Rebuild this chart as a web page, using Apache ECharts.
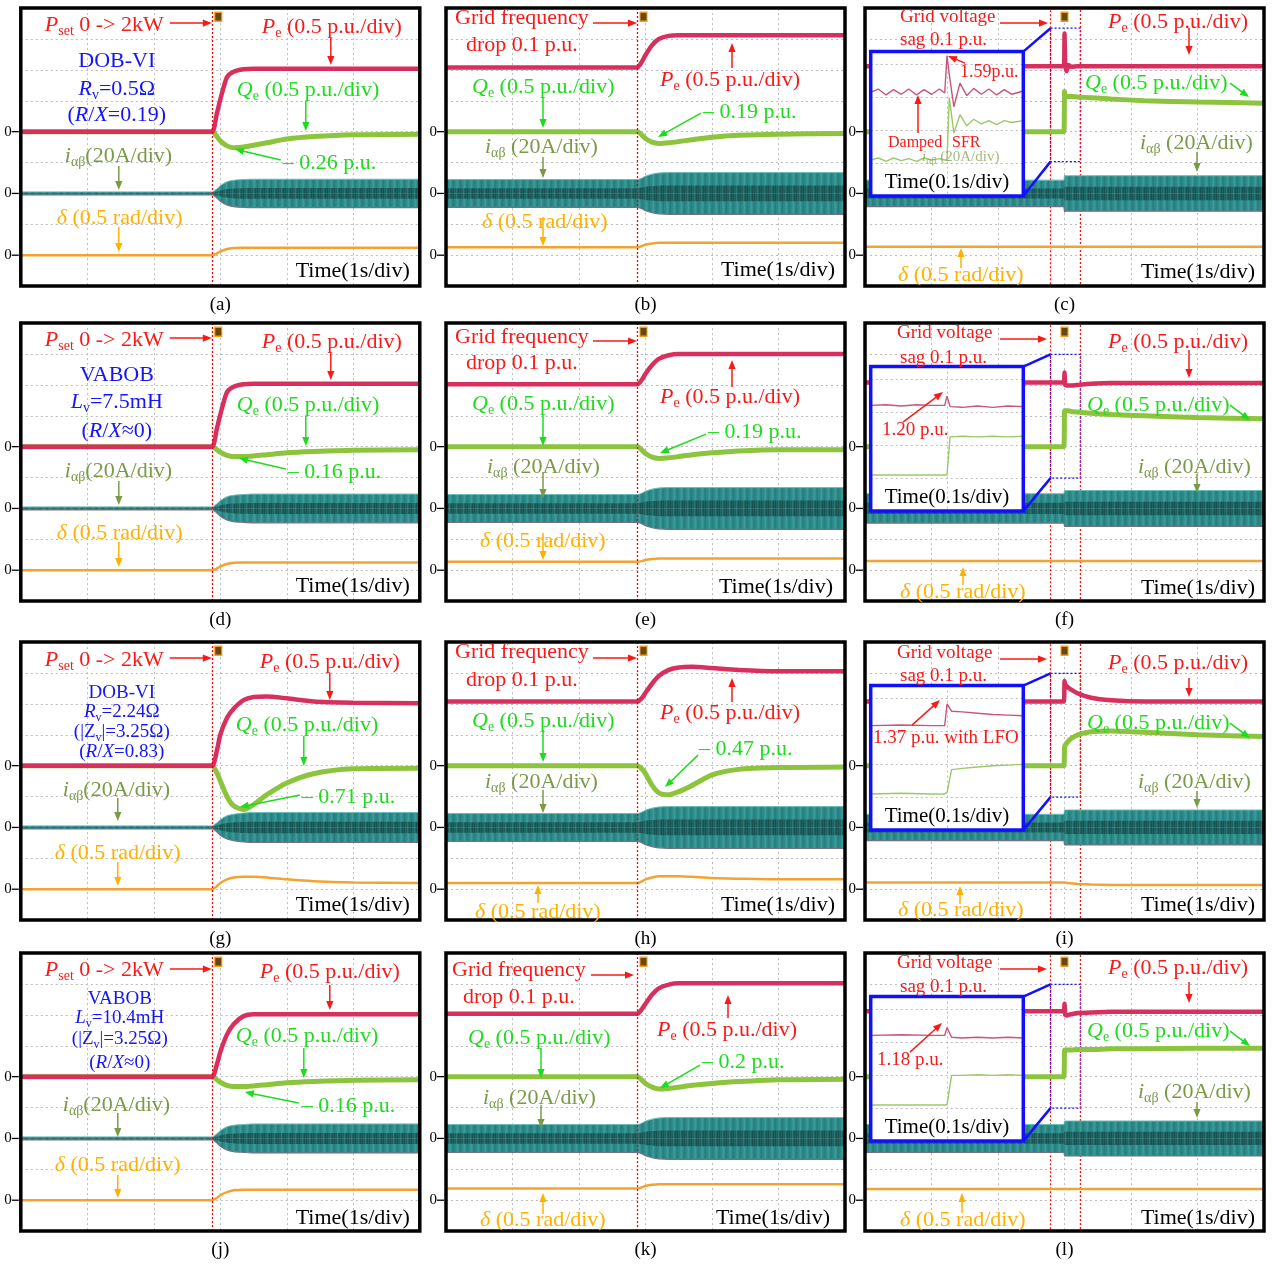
<!DOCTYPE html>
<html>
<head>
<meta charset="utf-8">
<script src="https://cdn.jsdelivr.net/npm/echarts@6/dist/echarts.min.js"></script>
<style>
  html, body { margin: 0; padding: 0; background: #fff; }
  #chart { width: 1273px; height: 1264px; }
</style>
</head>
<body>
<div id="chart"></div>
<script>
// ---------------------------------------------------------------------------
// Sample instants (s). Step / frequency-drop records and voltage-sag records.
// ---------------------------------------------------------------------------
const tStep = [0, 2.8, 2.88, 2.95, 3.0, 3.1, 3.2, 3.35, 3.5, 3.7, 4.0, 4.4, 5.0, 6.0];
const tSag  = [0, 2.9, 2.99, 3.0, 3.01, 3.03, 3.06, 3.1, 3.2, 3.4, 3.7, 4.2, 5.0, 6.0];

// Pe, Qe in p.u.; delta in rad; current envelope amplitude in A.
// (a) DOB-VI Rv=0.5 ohm, Pset step
const peA = [0, 0, 0, 0.3, 0.52, 0.88, 0.97, 1.01, 1.02, 1.02, 1.02, 1.02, 1.02, 1.02];
const qeA = [0, 0, 0, -0.08, -0.15, -0.23, -0.26, -0.25, -0.22, -0.18, -0.12, -0.08, -0.05, -0.04];
const dlA = [0, 0, 0, 0.03, 0.06, 0.1, 0.115, 0.12, 0.12, 0.12, 0.12, 0.12, 0.12, 0.12];
const iaA = [1, 1, 1, 3, 5, 7.5, 8.5, 9, 9.2, 9.2, 9.2, 9.2, 9.2, 9.2];
// (b) DOB-VI, grid frequency drop
const peB = [1.04, 1.04, 1.04, 1.14, 1.24, 1.4, 1.5, 1.55, 1.56, 1.56, 1.56, 1.56, 1.56, 1.56];
const qeB = [0, 0, 0, -0.06, -0.11, -0.17, -0.19, -0.18, -0.16, -0.13, -0.09, -0.06, -0.04, -0.03];
const dlB = [0.13, 0.13, 0.13, 0.15, 0.17, 0.19, 0.2, 0.2, 0.2, 0.2, 0.2, 0.2, 0.2, 0.2];
const iaB = [9, 9, 9, 10, 11.2, 12.5, 13.2, 13.5, 13.5, 13.5, 13.5, 13.5, 13.5, 13.5];
// (c) DOB-VI, grid voltage sag
const peC = [1.06, 1.06, 1.06, 1.59, 1.1, 0.98, 1.08, 1.05, 1.06, 1.06, 1.06, 1.06, 1.06, 1.06];
const qeC = [0, 0, 0, 0.65, 0.57, 0.56, 0.57, 0.57, 0.56, 0.55, 0.53, 0.5, 0.48, 0.46];
const dlC = [0.135, 0.135, 0.135, 0.135, 0.135, 0.135, 0.135, 0.135, 0.135, 0.135, 0.135, 0.135, 0.135, 0.135];
const iaC = [8.6, 8.6, 8.6, 12, 11.5, 11.5, 11.5, 11.5, 11.5, 11.5, 11.5, 11.5, 11.5, 11.5];
// (d) VABOB Lv=7.5mH, Pset step
const peD = [0, 0, 0, 0.3, 0.52, 0.88, 0.97, 1.01, 1.02, 1.02, 1.02, 1.02, 1.02, 1.02];
const qeD = [0, 0, 0, -0.05, -0.09, -0.14, -0.16, -0.16, -0.15, -0.13, -0.1, -0.08, -0.06, -0.05];
const dlD = [0, 0, 0, 0.03, 0.06, 0.1, 0.12, 0.125, 0.125, 0.125, 0.125, 0.125, 0.125, 0.125];
const iaD = [1, 1, 1, 3, 5, 7.5, 8.5, 9, 9.3, 9.3, 9.3, 9.3, 9.3, 9.3];
// (e) VABOB, grid frequency drop
const peE = [1.01, 1.01, 1.01, 1.09, 1.18, 1.32, 1.42, 1.48, 1.5, 1.5, 1.5, 1.5, 1.5, 1.5];
const qeE = [0, 0, 0, -0.06, -0.11, -0.17, -0.19, -0.18, -0.16, -0.13, -0.1, -0.07, -0.05, -0.05];
const dlE = [0.136, 0.136, 0.136, 0.15, 0.165, 0.18, 0.19, 0.19, 0.19, 0.19, 0.19, 0.19, 0.19, 0.19];
const iaE = [9, 9, 9, 10, 11.2, 12.5, 13.2, 13.5, 13.5, 13.5, 13.5, 13.5, 13.5, 13.5];
// (f) VABOB, grid voltage sag
const peF = [1.04, 1.04, 1.04, 1.2, 1.0, 0.99, 0.99, 0.99, 1.0, 1.02, 1.03, 1.03, 1.03, 1.03];
const qeF = [0, 0, 0, 0.58, 0.58, 0.58, 0.58, 0.57, 0.56, 0.54, 0.52, 0.5, 0.47, 0.45];
const dlF = [0.15, 0.15, 0.15, 0.15, 0.15, 0.15, 0.15, 0.15, 0.15, 0.15, 0.15, 0.15, 0.15, 0.15];
const iaF = [9.5, 9.5, 9.5, 11.6, 11.6, 11.6, 11.6, 11.6, 11.6, 11.6, 11.6, 11.6, 11.6, 11.6];
// (g) DOB-VI Rv=2.24 ohm, Pset step
const peG = [0, 0, 0, 0.25, 0.5, 0.77, 0.92, 1.06, 1.11, 1.12, 1.09, 1.04, 1.02, 1.01];
const qeG = [0, 0, 0, -0.12, -0.25, -0.5, -0.65, -0.71, -0.63, -0.47, -0.28, -0.13, -0.05, -0.04];
const dlG = [0, 0, 0, 0.05, 0.1, 0.16, 0.19, 0.2, 0.2, 0.19, 0.16, 0.13, 0.11, 0.1];
const iaG = [1, 1, 1, 3, 5, 7.5, 8.5, 9.3, 9.7, 9.7, 9.7, 9.7, 9.7, 9.7];
// (h) DOB-VI Rv=2.24 ohm, grid frequency drop
const peH = [1.04, 1.04, 1.04, 1.1, 1.18, 1.33, 1.45, 1.55, 1.59, 1.6, 1.58, 1.55, 1.53, 1.53];
const qeH = [0, 0, 0, -0.06, -0.13, -0.32, -0.44, -0.47, -0.42, -0.32, -0.15, -0.06, -0.03, -0.02];
const dlH = [0.1, 0.1, 0.1, 0.13, 0.16, 0.19, 0.21, 0.21, 0.21, 0.2, 0.18, 0.17, 0.16, 0.16];
const iaH = [9, 9, 9, 10, 11.2, 12.5, 13.2, 13.5, 13.5, 13.5, 13.5, 13.5, 13.5, 13.5];
// (i) DOB-VI Rv=2.24 ohm, grid voltage sag
const peI = [1.04, 1.04, 1.04, 1.37, 1.32, 1.29, 1.26, 1.23, 1.17, 1.1, 1.06, 1.04, 1.04, 1.04];
const qeI = [0, 0, 0, 0.3, 0.33, 0.36, 0.4, 0.44, 0.5, 0.55, 0.56, 0.54, 0.5, 0.47];
const dlI = [0.11, 0.11, 0.11, 0.11, 0.11, 0.105, 0.1, 0.095, 0.085, 0.075, 0.07, 0.07, 0.07, 0.07];
const iaI = [8.5, 8.5, 8.5, 11.3, 11.3, 11.3, 11.3, 11.3, 11.3, 11.3, 11.3, 11.3, 11.3, 11.3];
// (j) VABOB Lv=10.4mH, Pset step
const peJ = [0, 0, 0, 0.2, 0.4, 0.68, 0.85, 0.98, 1.01, 1.01, 1.01, 1.01, 1.01, 1.01];
const qeJ = [0, 0, 0, -0.05, -0.09, -0.14, -0.16, -0.16, -0.15, -0.13, -0.1, -0.08, -0.06, -0.05];
const dlJ = [0, 0, 0, 0.04, 0.08, 0.13, 0.16, 0.17, 0.17, 0.17, 0.17, 0.17, 0.17, 0.17];
const iaJ = [1, 1, 1, 3, 5, 7.5, 8.5, 9, 9.4, 9.4, 9.4, 9.4, 9.4, 9.4];
// (k) VABOB Lv=10.4mH, grid frequency drop
const peK = [1.02, 1.02, 1.02, 1.1, 1.18, 1.33, 1.43, 1.49, 1.51, 1.51, 1.51, 1.51, 1.51, 1.51];
const qeK = [0, 0, 0, -0.06, -0.11, -0.17, -0.2, -0.19, -0.17, -0.14, -0.11, -0.08, -0.05, -0.04];
const dlK = [0.19, 0.19, 0.19, 0.21, 0.23, 0.25, 0.26, 0.26, 0.26, 0.26, 0.26, 0.26, 0.26, 0.26];
const iaK = [9, 9, 9, 10, 11.2, 12.5, 13.2, 13.5, 13.5, 13.5, 13.5, 13.5, 13.5, 13.5];
// (l) VABOB Lv=10.4mH, grid voltage sag
const peL = [1.06, 1.06, 1.06, 1.18, 1.0, 0.99, 1.0, 1.01, 1.03, 1.04, 1.05, 1.05, 1.05, 1.05];
const qeL = [0, 0, 0, 0.43, 0.43, 0.43, 0.43, 0.43, 0.44, 0.44, 0.45, 0.45, 0.46, 0.46];
const dlL = [0.18, 0.18, 0.18, 0.18, 0.18, 0.18, 0.18, 0.18, 0.18, 0.18, 0.18, 0.18, 0.18, 0.18];
const iaL = [9, 9, 9, 11.3, 11.3, 11.3, 11.3, 11.3, 11.3, 11.3, 11.3, 11.3, 11.3, 11.3];

// Zoomed views of the sag instant (time in s relative to the sag, 0.1 s/div)
const tZoomC  = [-0.1, -0.09, -0.08, -0.07, -0.06, -0.05, -0.04, -0.03, -0.02, -0.01, -0.003, 0, 0.003, 0.009, 0.017, 0.026, 0.035, 0.045, 0.055, 0.065, 0.075, 0.085, 0.1];
const peZoomC = [1.03, 1.08, 0.99, 1.07, 1.0, 1.08, 0.99, 1.07, 1.0, 1.08, 1.02, 1.59, 1.3, 0.81, 1.17, 0.98, 1.09, 1.0, 1.08, 0.99, 1.07, 1.0, 1.05];
const qeZoomC = [0.0, 0.03, -0.02, 0.03, -0.01, 0.02, -0.02, 0.03, 0.0, 0.02, 0.0, 0.0, 0.95, 0.41, 0.69, 0.52, 0.62, 0.55, 0.6, 0.54, 0.6, 0.57, 0.6];
const tZoomF  = [-0.1, -0.08, -0.06, -0.04, -0.02, -0.003, 0, 0.004, 0.02, 0.04, 0.06, 0.08, 0.1];
const peZoomF = [1.06, 1.07, 1.05, 1.07, 1.06, 1.06, 1.2, 1.04, 1.03, 1.05, 1.03, 1.05, 1.04];
const qeZoomF = [0, 0, 0, 0, 0, 0, 0, 0.58, 0.59, 0.58, 0.59, 0.58, 0.59];
const tZoomI  = [-0.1, -0.06, -0.02, -0.003, 0, 0.006, 0.02, 0.04, 0.06, 0.08, 0.1];
const peZoomI = [1.04, 1.05, 1.04, 1.04, 1.37, 1.26, 1.25, 1.23, 1.21, 1.2, 1.19];
const qeZoomI = [0, 0.01, 0, 0, 0.02, 0.37, 0.39, 0.41, 0.43, 0.44, 0.45];
const tZoomL  = [-0.1, -0.06, -0.02, -0.003, 0, 0.006, 0.02, 0.04, 0.06, 0.08, 0.1];
const peZoomL = [1.06, 1.07, 1.06, 1.06, 1.18, 1.03, 1.02, 1.03, 1.02, 1.03, 1.02];
const qeZoomL = [0, 0, 0, 0, 0, 0.45, 0.45, 0.46, 0.45, 0.46, 0.45];

// ---------------------------------------------------------------------------
// Layout and styling
// ---------------------------------------------------------------------------
const FONT = '"Liberation Serif", "Times New Roman", serif';
const RED = '#f51b1b', GRN = '#1ddc1d', OLV = '#7b9a47', ORG = '#ffb100', BLU = '#1515f5', BLK = '#000';
const COL_X = [20.8, 446, 865];
const ROW_Y = [8.1, 323.1, 642.1, 953.1];
const W = 399, H = 278;
const ZOOM_BOX = { dx: 5.7, dy: 43.5, w: 152.6, h: 144.5 };
const GRIDLINE = { color: '#bdbdbd', type: [2, 3], width: 1 };

const panels = [
  { tag: 'a', col: 0, row: 0, t: tStep, pe: peA, qe: qeA, dl: dlA, ia: iaA, trig: 2.88 },
  { tag: 'b', col: 1, row: 0, t: tStep, pe: peB, qe: qeB, dl: dlB, ia: iaB, trig: 2.88 },
  { tag: 'c', col: 2, row: 0, t: tSag, pe: peC, qe: qeC, dl: dlC, ia: iaC, sag: true, box: [8.35, 4.03],
    zoom: { t: tZoomC, pe: peZoomC, qe: qeZoomC } },
  { tag: 'd', col: 0, row: 1, t: tStep, pe: peD, qe: qeD, dl: dlD, ia: iaD, trig: 2.88 },
  { tag: 'e', col: 1, row: 1, t: tStep, pe: peE, qe: qeE, dl: dlE, ia: iaE, trig: 2.88 },
  { tag: 'f', col: 2, row: 1, t: tSag, pe: peF, qe: qeF, dl: dlF, ia: iaF, sag: true, box: [7.99, 3.98],
    zoom: { t: tZoomF, pe: peZoomF, qe: qeZoomF } },
  { tag: 'g', col: 0, row: 2, t: tStep, pe: peG, qe: qeG, dl: dlG, ia: iaG, trig: 2.88 },
  { tag: 'h', col: 1, row: 2, t: tStep, pe: peH, qe: qeH, dl: dlH, ia: iaH, trig: 2.88 },
  { tag: 'i', col: 2, row: 2, t: tSag, pe: peI, qe: qeI, dl: dlI, ia: iaI, sag: true, box: [7.99, 3.98],
    zoom: { t: tZoomI, pe: peZoomI, qe: qeZoomI } },
  { tag: 'j', col: 0, row: 3, t: tStep, pe: peJ, qe: qeJ, dl: dlJ, ia: iaJ, trig: 2.88 },
  { tag: 'k', col: 1, row: 3, t: tStep, pe: peK, qe: qeK, dl: dlK, ia: iaK, trig: 2.88 },
  { tag: 'l', col: 2, row: 3, t: tSag, pe: peL, qe: qeL, dl: dlL, ia: iaL, sag: true, box: [7.99, 3.98],
    zoom: { t: tZoomL, pe: peZoomL, qe: qeZoomL } }
];

// Rich-text snippets
const S_PSET = '{i|P}{s|set}{n| 0 -> 2kW}';
const S_PE = '{i|P}{s|e}{n| (0.5 p.u./div)}';
const S_QE = '{i|Q}{s|e}{n| (0.5 p.u./div)}';
const S_IA = '{i|i}{s|αβ}{n|(20A/div)}';
const S_IB = '{i|i}{s|αβ}{n| (20A/div)}';
const S_DL = '{i|δ}{n| (0.5 rad/div)}';
const S_TIME = 'Time(1s/div)';
const S_TZ = 'Time(0.1s/div)';

// Annotations, relative to each panel's top-left plot corner
const NOTES = {
  a: [
    ['t', 24, 17, S_PSET, RED, 22], ['a', 149, 15, 191, 15, RED],
    ['t', 241, 19, S_PE, RED, 22], ['a', 310, 30, 310, 57, RED],
    ['t', 96, 53, 'DOB-VI', BLU, 22, 'center'],
    ['t', 96, 81, '{i|R}{s|v}{n|=0.5Ω}', BLU, 22, 'center'],
    ['t', 96, 107, '{n|(}{i|R}{n|/}{i|X}{n|=0.19)}', BLU, 22, 'center'],
    ['t', 216, 82, S_QE, GRN, 22], ['a', 285, 93, 285, 123, GRN],
    ['t', 262, 155, '– 0.26 p.u.', GRN, 22], ['a', 260, 152, 214, 141, GRN],
    ['t', 44, 148, S_IA, OLV, 22], ['a', 98, 158, 98, 182, OLV],
    ['t', 36, 210, S_DL, ORG, 22], ['a', 98, 219, 98, 244, ORG],
    ['t', 389, 263, S_TIME, BLK, 22, 'right']
  ],
  d: [
    ['t', 24, 17, S_PSET, RED, 22], ['a', 149, 15, 191, 15, RED],
    ['t', 241, 19, S_PE, RED, 22], ['a', 310, 30, 310, 57, RED],
    ['t', 96, 52, 'VABOB', BLU, 22, 'center'],
    ['t', 96, 79, '{i|L}{s|v}{n|=7.5mH}', BLU, 22, 'center'],
    ['t', 96, 108, '{n|(}{i|R}{n|/}{i|X}{n|≈0)}', BLU, 22, 'center'],
    ['t', 216, 82, S_QE, GRN, 22], ['a', 285, 93, 285, 123, GRN],
    ['t', 267, 149, '– 0.16 p.u.', GRN, 22], ['a', 265, 146, 218, 135, GRN],
    ['t', 44, 148, S_IA, OLV, 22], ['a', 98, 158, 98, 182, OLV],
    ['t', 36, 210, S_DL, ORG, 22], ['a', 98, 219, 98, 244, ORG],
    ['t', 389, 263, S_TIME, BLK, 22, 'right']
  ],
  g: [
    ['t', 24, 18, S_PSET, RED, 22], ['a', 149, 16, 191, 16, RED],
    ['t', 239, 20, S_PE, RED, 22], ['a', 309, 31, 309, 58, RED],
    ['t', 101, 51, 'DOB-VI', BLU, 19, 'center'],
    ['t', 101, 70, '{i|R}{s|v}{n|=2.24Ω}', BLU, 19, 'center'],
    ['t', 101, 90, '{n|(|Z}{s|v}{n||=3.25Ω)}', BLU, 19, 'center'],
    ['t', 101, 110, '{n|(}{i|R}{n|/}{i|X}{n|=0.83)}', BLU, 19, 'center'],
    ['t', 215, 83, S_QE, GRN, 22], ['a', 283, 94, 283, 124, GRN],
    ['t', 281, 155, '– 0.71 p.u.', GRN, 22], ['a', 279, 153, 219, 165, GRN],
    ['t', 42, 148, S_IA, OLV, 22], ['a', 97, 156, 97, 179, OLV],
    ['t', 34, 211, S_DL, ORG, 22], ['a', 97, 220, 97, 244, ORG],
    ['t', 389, 263, S_TIME, BLK, 22, 'right']
  ],
  j: [
    ['t', 24, 17, S_PSET, RED, 22], ['a', 149, 16, 191, 16, RED],
    ['t', 239, 19, S_PE, RED, 22], ['a', 309, 32, 309, 57, RED],
    ['t', 99, 46, 'VABOB', BLU, 19, 'center'],
    ['t', 99, 65, '{i|L}{s|v}{n|=10.4mH}', BLU, 19, 'center'],
    ['t', 99, 86, '{n|(|Z}{s|v}{n||=3.25Ω)}', BLU, 19, 'center'],
    ['t', 99, 110, '{n|(}{i|R}{n|/}{i|X}{n|≈0)}', BLU, 19, 'center'],
    ['t', 215, 83, S_QE, GRN, 22], ['a', 283, 95, 283, 125, GRN],
    ['t', 281, 153, '– 0.16 p.u.', GRN, 22], ['a', 278, 150, 224, 139, GRN],
    ['t', 42, 152, S_IA, OLV, 22], ['a', 97, 160, 97, 184, OLV],
    ['t', 34, 212, S_DL, ORG, 22], ['a', 97, 222, 97, 245, ORG],
    ['t', 389, 265, S_TIME, BLK, 22, 'right']
  ],
  b: [
    ['t', 9, 10, 'Grid frequency', RED, 22], ['t', 20, 37, 'drop 0.1 p.u.', RED, 22],
    ['a', 147, 15, 191, 15, RED],
    ['t', 214, 72, S_PE, RED, 22], ['a', 286, 60, 286, 35, RED],
    ['t', 26, 79, S_QE, GRN, 22], ['a', 97, 89, 97, 120, GRN],
    ['t', 257, 104, '– 0.19 p.u.', GRN, 22], ['a', 255, 105, 212, 129, GRN],
    ['t', 39, 139, S_IB, OLV, 22], ['a', 97, 149, 97, 170, OLV],
    ['t', 36, 214, S_DL, ORG, 22], ['a', 97, 209, 97, 238, ORG],
    ['t', 389, 262, S_TIME, BLK, 22, 'right']
  ],
  e: [
    ['t', 9, 14, 'Grid frequency', RED, 22], ['t', 20, 40, 'drop 0.1 p.u.', RED, 22],
    ['a', 147, 18, 191, 18, RED],
    ['t', 214, 74, S_PE, RED, 22], ['a', 286, 64, 286, 37, RED],
    ['t', 26, 81, S_QE, GRN, 22], ['a', 97, 92, 97, 123, GRN],
    ['t', 262, 109, '– 0.19 p.u.', GRN, 22], ['a', 260, 111, 214, 130, GRN],
    ['t', 41, 144, S_IB, OLV, 22], ['a', 97, 149, 97, 175, OLV],
    ['t', 34, 218, S_DL, ORG, 22], ['a', 97, 210, 97, 237, ORG],
    ['t', 387, 264, S_TIME, BLK, 22, 'right']
  ],
  h: [
    ['t', 9, 10, 'Grid frequency', RED, 22], ['t', 20, 38, 'drop 0.1 p.u.', RED, 22],
    ['a', 147, 16, 191, 16, RED],
    ['t', 214, 71, S_PE, RED, 22], ['a', 286, 60, 286, 36, RED],
    ['t', 26, 79, S_QE, GRN, 22], ['a', 97, 88, 97, 120, GRN],
    ['t', 253, 107, '– 0.47 p.u.', GRN, 22], ['a', 252, 113, 219, 145, GRN],
    ['t', 39, 140, S_IB, OLV, 22], ['a', 97, 148, 97, 171, OLV],
    ['t', 29, 270, S_DL, ORG, 22], ['a', 92, 261, 92, 243, ORG],
    ['t', 389, 263, S_TIME, BLK, 22, 'right']
  ],
  k: [
    ['t', 6, 17, 'Grid frequency', RED, 22], ['t', 17, 44, 'drop 0.1 p.u.', RED, 22],
    ['a', 145, 22, 188, 22, RED],
    ['t', 211, 77, S_PE, RED, 22], ['a', 282, 65, 282, 42, RED],
    ['t', 22, 85, S_QE, GRN, 22], ['a', 95, 95, 95, 125, GRN],
    ['t', 256, 109, '– 0.2 p.u.', GRN, 22], ['a', 254, 112, 214, 135, GRN],
    ['t', 37, 145, S_IB, OLV, 22], ['a', 95, 152, 95, 175, OLV],
    ['t', 34, 267, S_DL, ORG, 22], ['a', 97, 261, 97, 240, ORG],
    ['t', 384, 265, S_TIME, BLK, 22, 'right']
  ],
  c: [
    ['t', 35, 9, 'Grid voltage', RED, 19], ['t', 35, 32, 'sag 0.1 p.u.', RED, 19],
    ['a', 135, 15, 183, 15, RED],
    ['t', 243, 14, S_PE, RED, 22], ['a', 324, 20, 324, 47, RED],
    ['t', 220, 75, S_QE, GRN, 22], ['a', 365, 75, 384, 89, GRN],
    ['t', 275, 135, S_IB, OLV, 22], ['a', 332, 144, 332, 164, OLV],
    ['t', 33, 267, S_DL, ORG, 22], ['a', 96, 260, 96, 240, ORG],
    ['t', 390, 264, S_TIME, BLK, 22, 'right'],
    ['t', 95, 64, '1.59p.u.', RED, 18], ['a', 100, 55, 83, 48, RED],
    ['t', 23, 135, 'Damped', RED, 16], ['t', 87, 135, 'SFR', RED, 16],
    ['a', 53, 125, 53, 87, RED],
    ['t', 57, 149, S_IB, OLV, 15, 'left', 0.7],
    ['t', 82, 174, S_TZ, BLK, 21, 'center']
  ],
  f: [
    ['t', 32, 10, 'Grid voltage', RED, 19], ['t', 35, 35, 'sag 0.1 p.u.', RED, 19],
    ['a', 135, 16, 182, 16, RED],
    ['t', 243, 19, S_PE, RED, 22], ['a', 324, 27, 324, 55, RED],
    ['t', 222, 82, S_QE, GRN, 22], ['a', 365, 82, 385, 97, GRN],
    ['t', 273, 144, S_IB, OLV, 22], ['a', 332, 151, 332, 170, OLV],
    ['t', 35, 269, S_DL, ORG, 22], ['a', 98, 262, 98, 244, ORG],
    ['t', 390, 265, S_TIME, BLK, 22, 'right'],
    ['t', 17, 107, '1.20 p.u.', RED, 19], ['a', 38, 99, 78, 69, RED],
    ['t', 82, 174, S_TZ, BLK, 21, 'center']
  ],
  i: [
    ['t', 32, 11, 'Grid voltage', RED, 19], ['t', 35, 34, 'sag 0.1 p.u.', RED, 19],
    ['a', 135, 17, 182, 17, RED],
    ['t', 243, 21, S_PE, RED, 22], ['a', 324, 36, 324, 55, RED],
    ['t', 222, 81, S_QE, GRN, 22], ['a', 365, 81, 385, 96, GRN],
    ['t', 273, 140, S_IB, OLV, 22], ['a', 332, 149, 332, 166, OLV],
    ['t', 33, 268, S_DL, ORG, 22], ['a', 95, 262, 95, 244, ORG],
    ['t', 390, 263, S_TIME, BLK, 22, 'right'],
    ['t', 8, 96, '1.37 p.u. with LFO', RED, 19], ['a', 47, 83, 75, 58, RED],
    ['t', 82, 174, S_TZ, BLK, 21, 'center']
  ],
  l: [
    ['t', 32, 10, 'Grid voltage', RED, 19], ['t', 35, 34, 'sag 0.1 p.u.', RED, 19],
    ['a', 135, 16, 182, 16, RED],
    ['t', 243, 15, S_PE, RED, 22], ['a', 324, 29, 324, 50, RED],
    ['t', 222, 78, S_QE, GRN, 22], ['a', 365, 78, 385, 93, GRN],
    ['t', 273, 139, S_IB, OLV, 22], ['a', 332, 149, 332, 165, OLV],
    ['t', 35, 267, S_DL, ORG, 22], ['a', 97, 260, 97, 240, ORG],
    ['t', 390, 265, S_TIME, BLK, 22, 'right'],
    ['t', 12, 107, '1.18 p.u.', RED, 19], ['a', 45, 99, 77, 70, RED],
    ['t', 82, 174, S_TZ, BLK, 21, 'center']
  ]
};

// ---------------------------------------------------------------------------
// Helpers
// ---------------------------------------------------------------------------
function textEl(x, y, s, color, size, align, opacity) {
  const sub = Math.round(size * 0.64);
  return {
    type: 'text', x: x, y: y, z: 60, silent: true,
    style: {
      text: s, fill: color, fontFamily: FONT, fontSize: size, opacity: opacity == null ? 1 : opacity,
      align: align || 'left', textAlign: align || 'left',
      verticalAlign: 'middle', textVerticalAlign: 'middle',
      rich: {
        n: { fill: color, fontFamily: FONT, fontSize: size, lineHeight: size + 4 },
        i: { fill: color, fontFamily: FONT, fontSize: size, fontStyle: 'italic', lineHeight: size + 4 },
        s: { fill: color, fontFamily: FONT, fontSize: sub, lineHeight: sub - 2, verticalAlign: 'bottom' }
      }
    }
  };
}

function arrowEls(x1, y1, x2, y2, color) {
  const dx = x2 - x1, dy = y2 - y1, len = Math.hypot(dx, dy);
  const ux = dx / len, uy = dy / len, hl = 9, hw = 3.6;
  const bx = x2 - ux * hl, by = y2 - uy * hl;
  return [
    { type: 'line', z: 60, silent: true, shape: { x1: x1, y1: y1, x2: bx + ux, y2: by + uy },
      style: { stroke: color, lineWidth: 1.5 } },
    { type: 'polygon', z: 60, silent: true,
      shape: { points: [[x2, y2], [bx - uy * hw, by + ux * hw], [bx + uy * hw, by - ux * hw]] },
      style: { fill: color } }
  ];
}

function notesEls(list, ox, oy) {
  const out = [];
  list.forEach(n => {
    if (n[0] === 't') out.push(textEl(ox + n[1], oy + n[2], n[3], n[4], n[5], n[6], n[7]));
    else out.push(...arrowEls(ox + n[1], oy + n[2], ox + n[3], oy + n[4], n[5]));
  });
  return out;
}

function pairs(t, vals, f) { return t.map((x, k) => [x, f(vals[k])]); }

// Vertical-stripe texture for the dense three-phase current trace
function stripes(colors) {
  const c = document.createElement('canvas');
  c.width = colors.length; c.height = 8;
  const g = c.getContext('2d');
  colors.forEach((col, k) => { g.fillStyle = col; g.fillRect(k, 0, 1, 8); });
  return { image: c, repeat: 'repeat' };
}
const BAND_FILL = stripes(['#2e8b89', '#349694', '#389c99', '#32918f', '#2b8482', '#287e7c', '#2c8886']);
const CORE_FILL = stripes(['rgba(18,62,62,0.55)', 'rgba(18,62,62,0.35)', 'rgba(18,62,62,0.6)',
  'rgba(18,62,62,0.75)', 'rgba(18,62,62,0.5)', 'rgba(18,62,62,0.7)', 'rgba(18,62,62,0.45)']);

// ---------------------------------------------------------------------------
// Build option
// ---------------------------------------------------------------------------
const grid = [], xAxis = [], yAxis = [], series = [], graphic = [];

panels.forEach((p, gi) => {
  const L = COL_X[p.col], T = ROW_Y[p.row];
  grid.push({ left: L, top: T, width: W, height: H, show: false, z: 0 });
  xAxis.push({
    gridIndex: gi, type: 'value', min: 0, max: 6, interval: 1,
    axisLine: { show: false }, axisTick: { show: false }, axisLabel: { show: false },
    splitLine: { show: true, lineStyle: GRIDLINE }
  });
  yAxis.push({
    gridIndex: gi, type: 'value', min: 0, max: 9, interval: 1,
    axisLine: { show: false }, axisTick: { show: false },
    splitLine: { show: true, lineStyle: GRIDLINE },
    axisLabel: {
      show: true, margin: 2,
      formatter: v => (v === 1 || v === 3 || v === 5) ? '{z|0}{d| }' : '',
      rich: {
        z: { fontFamily: FONT, fontSize: 15, color: '#000' },
        d: { width: 7, height: 1.3, backgroundColor: '#000', fontSize: 2 }
      }
    }
  });

  const common = {
    type: 'line', xAxisIndex: gi, yAxisIndex: gi, symbol: 'none', silent: true,
    smooth: p.sag ? 0.12 : 0.25, animation: false
  };
  // iαβ: 20 A/div around division 3
  series.push({ ...common, z: 2, data: pairs(p.t, p.ia, a => 3 + a / 20),
    lineStyle: { width: 1, color: '#66bdb9' }, areaStyle: { origin: 3, color: BAND_FILL, opacity: 1 } });
  series.push({ ...common, z: 2, data: pairs(p.t, p.ia, a => 3 - a / 20),
    lineStyle: { width: 1.2, color: '#727089' }, areaStyle: { origin: 3, color: BAND_FILL, opacity: 1 } });
  series.push({ ...common, z: 2, data: pairs(p.t, p.ia, a => 3 + 0.38 * a / 20),
    lineStyle: { opacity: 0 }, areaStyle: { origin: 3, color: CORE_FILL, opacity: 1 } });
  series.push({ ...common, z: 2, data: pairs(p.t, p.ia, a => 3 - 0.38 * a / 20),
    lineStyle: { opacity: 0 }, areaStyle: { origin: 3, color: CORE_FILL, opacity: 1 } });
  // δ: 0.5 rad/div around division 1
  series.push({ ...common, z: 3, data: pairs(p.t, p.dl, d => 1 + d / 0.5),
    lineStyle: { width: 2.5, color: '#f3a332' } });
  // Qe: 0.5 p.u./div around division 5
  const qeSeries = { ...common, z: 4, data: pairs(p.t, p.qe, q => 5 + q / 0.5),
    lineStyle: { width: 5, color: '#8cc43e' } };
  // Pe: 0.5 p.u./div around division 5
  const peSeries = { ...common, z: 4, data: pairs(p.t, p.pe, v => 5 + v / 0.5),
    lineStyle: { width: 4.5, color: '#d7305f' } };

  const marker = {
    symbol: 'rect', symbolSize: [7, 9], silent: true, label: { show: false },
    itemStyle: { color: '#6b4710', borderColor: '#f0a020', borderWidth: 1.2 }
  };
  if (p.sag) {
    peSeries.markArea = {
      silent: true,
      itemStyle: { color: 'rgba(0,0,0,0)', borderColor: '#ff1010', borderWidth: 1.3, borderType: [2, 2] },
      data: [[{ xAxis: 2.79 }, { xAxis: 3.24 }]]
    };
    qeSeries.markArea = {
      silent: true,
      itemStyle: { color: 'rgba(0,0,0,0)', borderColor: '#1010ff', borderWidth: 1.3, borderType: [2, 2] },
      data: [[{ xAxis: 2.79, yAxis: p.box[0] }, { xAxis: 3.24, yAxis: p.box[1] }]]
    };
    peSeries.markPoint = { ...marker, data: [{ coord: [3.0, 8.72] }] };
  } else {
    peSeries.markLine = {
      silent: true, symbol: ['none', 'none'], label: { show: false },
      lineStyle: { color: '#ee0000', type: [2, 2], width: 1.3 },
      data: [{ xAxis: p.trig }]
    };
    peSeries.markPoint = { ...marker, data: [{ coord: [2.97, 8.72] }] };
  }
  series.push(qeSeries, peSeries);

  // frame
  graphic.push({ type: 'rect', z: 40, silent: true, shape: { x: L, y: T, width: W, height: H },
    style: { fill: 'rgba(0,0,0,0)', stroke: '#000', lineWidth: 3.5 } });
  // caption
  graphic.push(textEl(L + W / 2, T + H + 19, '(' + p.tag + ')', BLK, 19, 'center'));
  graphic.push(...notesEls(NOTES[p.tag], L, T));
});

// Zoomed sub-plots
panels.forEach(p => {
  if (!p.zoom) return;
  const L = COL_X[p.col] + ZOOM_BOX.dx, T = ROW_Y[p.row] + ZOOM_BOX.dy;
  const gi = grid.length;
  grid.push({ left: L, top: T, width: ZOOM_BOX.w, height: ZOOM_BOX.h, show: true,
    backgroundColor: '#fff', borderWidth: 0, z: 10 });
  xAxis.push({ gridIndex: gi, type: 'value', min: -0.1, max: 0.1, interval: 0.1, z: 11,
    axisLine: { show: false }, axisTick: { show: false }, axisLabel: { show: false },
    splitLine: { show: true, lineStyle: GRIDLINE } });
  yAxis.push({ gridIndex: gi, type: 'value', min: 0, max: 4.4, interval: 1, z: 11,
    axisLine: { show: false }, axisTick: { show: false }, axisLabel: { show: false },
    splitLine: { show: true, lineStyle: GRIDLINE } });
  const common = { type: 'line', xAxisIndex: gi, yAxisIndex: gi, symbol: 'none', silent: true, z: 12, animation: false };
  series.push({ ...common, data: pairs(p.zoom.t, p.zoom.qe, q => 1.1 + q / 0.5),
    lineStyle: { width: 1.4, color: '#9ec76a' } });
  series.push({ ...common, data: pairs(p.zoom.t, p.zoom.pe, v => 1.1 + v / 0.5),
    lineStyle: { width: 1.4, color: '#c8557d' } });
  graphic.push({ type: 'rect', z: 45, silent: true,
    shape: { x: L, y: T, width: ZOOM_BOX.w, height: ZOOM_BOX.h },
    style: { fill: 'rgba(0,0,0,0)', stroke: '#1010ff', lineWidth: 3.5 } });
});

const chart = echarts.init(document.getElementById('chart'), null, { renderer: 'canvas' });
chart.setOption({ animation: false, backgroundColor: '#fff', grid, xAxis, yAxis, series, graphic });

// Connector lines from each zoomed view to its marked window
const connectors = [];
panels.forEach((p, gi) => {
  if (!p.zoom) return;
  const L = COL_X[p.col] + ZOOM_BOX.dx, T = ROW_Y[p.row] + ZOOM_BOX.dy;
  const topLeft = chart.convertToPixel({ gridIndex: gi }, [2.79, p.box[0]]);
  const botLeft = chart.convertToPixel({ gridIndex: gi }, [2.79, p.box[1]]);
  const xr = L + ZOOM_BOX.w;
  connectors.push({ type: 'line', z: 45, silent: true, shape: { x1: xr, y1: T, x2: topLeft[0], y2: topLeft[1] },
    style: { stroke: '#1010ff', lineWidth: 2.5 } });
  connectors.push({ type: 'line', z: 45, silent: true, shape: { x1: xr, y1: T + ZOOM_BOX.h, x2: botLeft[0], y2: botLeft[1] },
    style: { stroke: '#1010ff', lineWidth: 2.5 } });
});
chart.setOption({ graphic: graphic.concat(connectors) }, { replaceMerge: ['graphic'] });
</script>
</body>
</html>
